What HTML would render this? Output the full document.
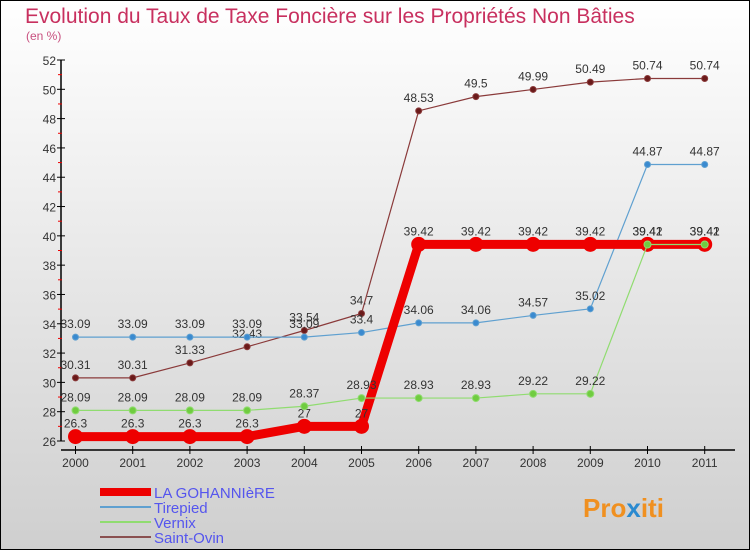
<!DOCTYPE html>
<html><head><meta charset="utf-8"><style>
body{margin:0}
#c{width:750px;height:550px;position:relative;overflow:hidden}
svg text{font-family:"Liberation Sans",sans-serif}
</style></head><body>
<div id="c">
<svg id="s" width="750" height="550" xmlns="http://www.w3.org/2000/svg">
<defs><linearGradient id="bg" x1="0" y1="0" x2="0" y2="1"><stop offset="0" stop-color="#ffffff"/><stop offset="1" stop-color="#cfcfcf"/></linearGradient></defs>
<rect x="0.5" y="0.5" width="749" height="549" fill="url(#bg)" stroke="#000"/>
<text x="25" y="23" font-size="21" fill="#c8305f">Evolution du Taux de Taxe Foncière sur les Propriétés Non Bâties</text>
<text x="26" y="40" font-size="12" fill="#c8507f">(en %)</text>
<g id="axes"></g><g id="series"></g><g id="legend"></g>
<text x="583" y="517" font-size="26" font-weight="bold" fill="#f09020">Pro<tspan fill="#2a8ad0">x</tspan>iti</text>
</svg></div>
<script>
const years=[2000,2001,2002,2003,2004,2005,2006,2007,2008,2009,2010,2011];
const yTicks=[26,28,30,32,34,36,38,40,42,44,46,48,50,52];
const laGohanniere=[26.3,26.3,26.3,26.3,27,27,39.42,39.42,39.42,39.42,39.42,39.42];
const tirepied=[33.09,33.09,33.09,33.09,33.09,33.4,34.06,34.06,34.57,35.02,44.87,44.87];
const vernix=[28.09,28.09,28.09,28.09,28.37,28.93,28.93,28.93,29.22,29.22,39.41,39.41];
const saintOvin=[30.31,30.31,31.33,32.43,33.54,34.7,48.53,49.5,49.99,50.49,50.74,50.74];
const NS="http://www.w3.org/2000/svg";
const X=i=>75.5+i*57.2;
const Y=v=>441-(v-26)*(381/26);
function el(t,a,p){const e=document.createElementNS(NS,t);for(const k in a)e.setAttribute(k,a[k]);p.appendChild(e);return e;}
const ax=document.getElementById('axes');
let e=el('line',{x1:61,y1:60,x2:61,y2:441,stroke:'#000','stroke-width':1.5},ax);


e=el('line',{x1:61,y1:450,x2:735,y2:450,stroke:'#000','stroke-width':1.5},ax);


yTicks.forEach(v=>{
 el('line',{x1:57,y1:Y(v),x2:65,y2:Y(v),stroke:'#000'},ax);
 if(v<52) el('line',{x1:58,y1:Y(v+1),x2:62,y2:Y(v+1),stroke:'#e00'},ax);
 const t=el('text',{x:56,y:Y(v)+5,'font-size':12,'text-anchor':'end',fill:'#333'},ax);t.textContent=v;
 
 
});
years.forEach((y,i)=>{
 el('line',{x1:X(i),y1:446,x2:X(i),y2:454,stroke:'#000'},ax);
 const t=el('text',{x:X(i),y:467,'font-size':12,'text-anchor':'middle',fill:'#333'},ax);t.textContent=y;
 
 
});
const sg=document.getElementById('series');
function series(d,col,dot,w,r,name){
 const g=el('g',{},sg);
 
 
 el('polyline',{points:d.map((v,i)=>X(i)+','+Y(v)).join(' '),fill:'none',stroke:col,'stroke-width':w},g);
 d.forEach((v,i)=>{
  const c=el('circle',{cx:X(i),cy:Y(v),r:r,fill:dot,stroke:col,'stroke-width':1},g);
  
  
  const t=el('text',{x:X(i),y:Y(v)-9,'font-size':12,'text-anchor':'middle',fill:'#333'},g);t.textContent=v;
  
  
 });
}
series(saintOvin,'#8a3a3a','#6a1a1a',1.2,3,'saint-ovin');
series(tirepied,'#5fa0d0','#3a8ad0',1.2,3,'tirepied');
series(laGohanniere,'#ee0000','#ee0000',9,7,'la-gohanniere');
series(vernix,'#90dc70','#70cc40',1.2,3.5,'vernix');
const lg=document.getElementById('legend');
[['LA GOHANNIèRE','#ee0000',8],['Tirepied','#5fa0d0',2],['Vernix','#90dc70',2],['Saint-Ovin','#8a5050',2]].forEach((l,i)=>{
 const y=492+i*15;
 const g=el('g',{},lg);
 
 
 el('line',{x1:100,y1:y,x2:151,y2:y,stroke:l[1],'stroke-width':l[2]},g);
 const t=el('text',{x:154,y:y+6,'font-size':15,fill:'#5555ee'},g);t.textContent=l[0];
});
</script>
</body></html>
